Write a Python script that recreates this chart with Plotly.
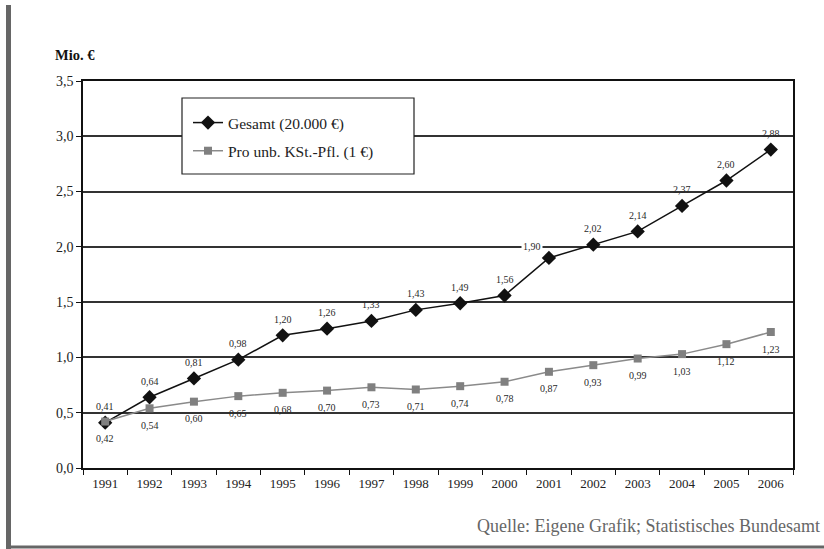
import plotly.graph_objects as go

# Jahre und Werte (Mio. €)
jahre = [str(j) for j in range(1991, 2007)]
gesamt = [0.41, 0.64, 0.81, 0.98, 1.20, 1.26, 1.33, 1.43, 1.49, 1.56,
          1.90, 2.02, 2.14, 2.37, 2.60, 2.88]
pro_kst = [0.42, 0.54, 0.60, 0.65, 0.68, 0.70, 0.73, 0.71, 0.74, 0.78,
           0.87, 0.93, 0.99, 1.03, 1.12, 1.23]
y_ticks = [0.0, 0.5, 1.0, 1.5, 2.0, 2.5, 3.0, 3.5]

SERIF = "Liberation Serif, Times New Roman, serif"
W, H = 824, 549
L, R, T, B = 83, 31, 81, 81
PW, PH = W - L - R, H - T - B


def px(x):
    return (x - L) / PW


def py(y):
    return (H - B - y) / PH


def fmt(v):
    return f"{v:.2f}".replace(".", ",")


fig = go.Figure()
fig.add_trace(go.Scatter(
    x=jahre, y=gesamt, mode="lines+markers", name="Gesamt (20.000 €)",
    line=dict(color="#111111", width=1.5),
    marker=dict(symbol="diamond", size=11, color="#111111"),
    legendgroup="a",
))
fig.add_trace(go.Scatter(
    x=jahre, y=pro_kst, mode="lines+markers", name="Pro unb. KSt.-Pfl. (1 €)",
    line=dict(color="#8a8a8a", width=1.5),
    marker=dict(symbol="square", size=8, color="#808080"),
    legendgroup="b",
))

# Wertbeschriftungen: Gesamt oberhalb, pro Steuerpflichtigem unterhalb
label_font = dict(family=SERIF, size=10, color="#2a2a2a")
annotations = []
for i, v in enumerate(gesamt):
    a = dict(x=i, y=v, text=fmt(v), showarrow=False, yshift=16, font=label_font)
    if jahre[i] == "2001":
        a.update(xshift=-17, yshift=11, bgcolor="white")
    annotations.append(a)
for i, v in enumerate(pro_kst):
    annotations.append(dict(x=i, y=v, text=fmt(v), showarrow=False,
                            yshift=-17, font=label_font))

annotations.append(dict(x=px(53), y=py(55), xref="paper", yref="paper",
                        xanchor="left", yanchor="middle", showarrow=False,
                        text="<b>Mio. €</b>",
                        font=dict(family=SERIF, size=14.5, color="#111111")))
annotations.append(dict(x=px(822), y=py(526), xref="paper", yref="paper",
                        xanchor="right", yanchor="middle", showarrow=False,
                        text="Quelle: Eigene Grafik; Statistisches Bundesamt",
                        font=dict(family=SERIF, size=18, color="#666666")))

shapes = [
    # Legendenrahmen
    dict(type="rect", xref="paper", yref="paper",
         x0=px(182), x1=px(414), y0=py(174), y1=py(98),
         fillcolor="white", line=dict(color="#222222", width=1.2), layer="above"),
    # Seitenrahmen links und unten
    dict(type="line", xref="paper", yref="paper",
         x0=px(8.5), x1=px(8.5), y0=py(5), y1=py(549),
         line=dict(color="#666666", width=5)),
    dict(type="line", xref="paper", yref="paper",
         x0=px(6), x1=px(824), y0=py(547), y1=py(547),
         line=dict(color="#666666", width=3)),
]

fig.update_layout(
    width=W, height=H,
    margin=dict(l=L, r=R, t=T, b=B),
    paper_bgcolor="white", plot_bgcolor="white",
    separators=",.",
    font=dict(family=SERIF, color="#222222"),
    showlegend=True,
    legend=dict(x=px(188), y=py(106), xanchor="left", yanchor="top",
                bgcolor="rgba(0,0,0,0)", borderwidth=0,
                font=dict(family=SERIF, size=15.5, color="#222222"),
                tracegroupgap=5, itemwidth=30),
    annotations=annotations,
    shapes=shapes,
    xaxis=dict(type="category", tickson="boundaries", ticks="outside",
               ticklen=5, tickcolor="#111111", tickwidth=1.2,
               showline=True, linecolor="#111111", linewidth=1.5, mirror=True,
               showgrid=False, ticklabelstandoff=3,
               tickfont=dict(family=SERIF, size=13, color="#222222"),
               range=[-0.5, len(jahre) - 0.5]),
    yaxis=dict(range=[0, 3.5], tickvals=y_ticks, tickformat=".1f",
               ticks="outside", ticklen=5, tickcolor="#111111", tickwidth=1.2,
               showline=True, linecolor="#111111", linewidth=1.5, mirror=True,
               showgrid=True, gridcolor="#333333", gridwidth=1.5,
               zeroline=False,
               tickfont=dict(family=SERIF, size=14, color="#222222")),
)

fig.write_html("out.html")
